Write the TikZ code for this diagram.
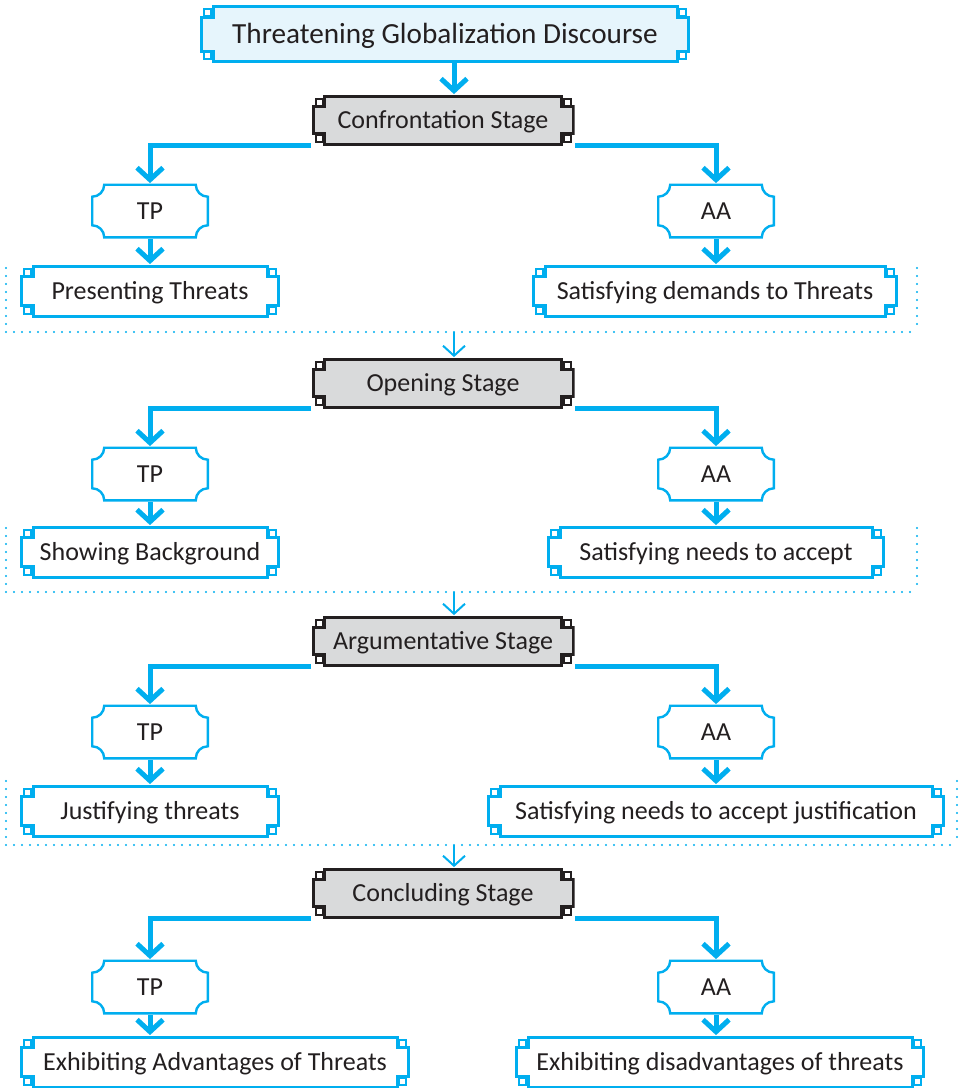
\documentclass[tikz,border=0pt]{standalone}
\usepackage{fontspec}
\setmainfont{Carlito}
\usepackage{xcolor}
\definecolor{fretblue}{RGB}{0,174,239}
\definecolor{titlefill}{RGB}{230,245,252}
\definecolor{stagegray}{RGB}{217,218,219}
\definecolor{inkdark}{RGB}{35,31,32}
\usetikzlibrary{arrows.meta, calc}

%% cadre a coins en gradin (titre, etapes, feuilles)
\newcommand\fretframe[3]{%
  \path[draw=#1, fill=#2, line width=1.5pt]
    let \p1=(path picture bounding box.north west),
        \p2=(path picture bounding box.south east) in
    (\x1+6.5pt,\y1-0.75pt) -- (\x2-6.5pt,\y1-0.75pt) -- (\x2-6.5pt,\y1-6pt)
    -- (\x2-0.75pt,\y1-6pt) -- (\x2-0.75pt,\y2+6pt) -- (\x2-6.5pt,\y2+6pt)
    -- (\x2-6.5pt,\y2+0.75pt) -- (\x1+6.5pt,\y2+0.75pt) -- (\x1+6.5pt,\y2+6pt)
    -- (\x1+0.75pt,\y2+6pt) -- (\x1+0.75pt,\y1-6pt) -- (\x1+6.5pt,\y1-6pt) -- cycle;
  \path[draw=#1, fill=#3, line width=1pt]
    let \p1=(path picture bounding box.north west),
        \p2=(path picture bounding box.south east) in
    (\x1+2pt,\y1-2pt) rectangle (\x1+5.5pt,\y1-5.5pt)
    (\x2-2pt,\y1-2pt) rectangle (\x2-5.5pt,\y1-5.5pt)
    (\x1+2pt,\y2+2pt) rectangle (\x1+5.5pt,\y2+5.5pt)
    (\x2-2pt,\y2+2pt) rectangle (\x2-5.5pt,\y2+5.5pt);
}
%% cadre a coins concaves (TP / AA)
\newcommand\scallopframe{%
  \path[draw=fretblue, fill=white, line width=1.2pt]
    let \p1=(path picture bounding box.north west),
        \p2=(path picture bounding box.south east) in
    (\x1+6.6pt,\y1-0.6pt) -- (\x2-6.6pt,\y1-0.6pt)
    arc[start angle=180, end angle=270, radius=6pt]
    -- (\x2-0.6pt,\y2+6.6pt)
    arc[start angle=90, end angle=180, radius=6pt]
    -- (\x1+6.6pt,\y2+0.6pt)
    arc[start angle=0, end angle=90, radius=6pt]
    -- (\x1+0.6pt,\y1-6.6pt)
    arc[start angle=270, end angle=360, radius=6pt] -- cycle;
}

\begin{document}
\begin{tikzpicture}[
    x=0.5pt, y=-0.5pt,
    fretnode/.style ={rectangle, inner sep=0pt, text=inkdark, align=center},
    titlebox/.style ={fretnode, minimum width=245pt, minimum height=29pt,
                      font=\fontsize{14.6}{17}\selectfont, text depth=0.6pt,
                      path picture={\fretframe{fretblue}{titlefill}{white}}},
    stagebox/.style ={fretnode, minimum width=131.5pt, minimum height=25.5pt,
                      font=\fontsize{13}{15}\selectfont, text depth=0.8pt,
                      path picture={\fretframe{inkdark}{stagegray}{white}}},
    partybox/.style ={fretnode, minimum width=59pt, minimum height=27.5pt,
                      font=\fontsize{13}{15}\selectfont,
                      path picture={\scallopframe}},
    leafbox/.style  ={fretnode, minimum height=26.5pt,
                      font=\fontsize{13}{15}\selectfont, text depth=0.8pt,
                      path picture={\fretframe{fretblue}{white}{white}}},
    flow/.style     ={draw=fretblue, line width=2.5pt,
                      -{Straight Barb[length=6pt, width=13pt]}},
    hop/.style      ={draw=fretblue, line width=1pt,
                      -{Straight Barb[length=5pt, width=11pt]}},
    stageframe/.style={draw=fretblue, line width=1.1pt, line cap=round,
                      dash pattern=on 0pt off 4pt}
]
\clip (0,0) rectangle (960,1088);
\coordinate (spine) at (454,0);

%% --- titre ---
\node[titlebox] (disc) at (445,34) {Threatening Globalization Discourse};

%% --- confrontation ---
\node[stagebox] (conf) at (443,120) {Confrontation Stage};
\node[partybox] (tp1)  at (150,211) {TP};
\node[partybox] (aa1)  at (716,211) {AA};
\node[leafbox, minimum width=130pt] (pres) at (150,291) {Presenting Threats};
\node[leafbox, minimum width=183pt] (dema) at (715,291) {Satisfying demands to Threats};

%% --- opening ---
\node[stagebox] (open) at (443,383) {Opening Stage};
\node[partybox] (tp2)  at (150,474) {TP};
\node[partybox] (aa2)  at (716,474) {AA};
\node[leafbox, minimum width=130pt] (back) at (150,552) {Showing Background};
\node[leafbox, minimum width=169pt] (need) at (716,552) {Satisfying needs to accept};

%% --- argumentative ---
\node[stagebox] (argu) at (443,641) {Argumentative Stage};
\node[partybox] (tp3)  at (150,732) {TP};
\node[partybox] (aa3)  at (716,732) {AA};
\node[leafbox, minimum width=130pt] (just) at (150,811) {Justifying threats};
\node[leafbox, minimum width=229pt] (accj) at (716,811) {Satisfying needs to accept justification};

%% --- concluding ---
\node[stagebox] (conc) at (443,893) {Concluding Stage};
\node[partybox] (tp4)  at (150,987) {TP};
\node[partybox] (aa4)  at (716,987) {AA};
\node[leafbox, minimum width=195pt] (advt) at (215,1062) {Exhibiting Advantages of Threats};
\node[leafbox, minimum width=205pt] (dadv) at (720,1062) {Exhibiting disadvantages of threats};

%% --- cadres pointilles entre les etapes ---
\coordinate (sep1) at (454,332);
\coordinate (sep2) at (454,592);
\coordinate (sep3) at (454,845);
\draw[stageframe] (6,332) -- (917,332);
\draw[stageframe] (6,592) -- (917,592);
\draw[stageframe] (6,845) -- (957,845);
% montants qui s'estompent vers le haut
\foreach \xx/\yy in {6/332, 917/332, 6/592, 917/592, 6/845, 957/845}
  \foreach \k [evaluate=\k as \op using 1-\k/9] in {1,...,8}
    \fill[fretblue, opacity=\op] (\xx,\yy-8*\k) circle[radius=0.55pt];

%% --- fleches ---
\draw[flow] (disc.south -| spine) -- (conf.north -| spine);
\draw[hop] (sep1) -- (open.north -| sep1);
\draw[hop] (sep2) -- (argu.north -| sep2);
\draw[hop] (sep3) -- (conc.north -| sep3);

\draw[flow] (conf.south west) -| (tp1.north);
\draw[flow] (conf.south east) -| (aa1.north);
\draw[flow] (open.south west) -| (tp2.north);
\draw[flow] (open.south east) -| (aa2.north);
\draw[flow] (argu.south west) -| (tp3.north);
\draw[flow] (argu.south east) -| (aa3.north);
\draw[flow] (conc.south west) -| (tp4.north);
\draw[flow] (conc.south east) -| (aa4.north);

\draw[flow] (tp1.south) -- (tp1.south |- pres.north);
\draw[flow] (aa1.south) -- (aa1.south |- dema.north);
\draw[flow] (tp2.south) -- (tp2.south |- back.north);
\draw[flow] (aa2.south) -- (aa2.south |- need.north);
\draw[flow] (tp3.south) -- (tp3.south |- just.north);
\draw[flow] (aa3.south) -- (aa3.south |- accj.north);
\draw[flow] (tp4.south) -- (tp4.south |- advt.north);
\draw[flow] (aa4.south) -- (aa4.south |- dadv.north);
\end{tikzpicture}
\end{document}
